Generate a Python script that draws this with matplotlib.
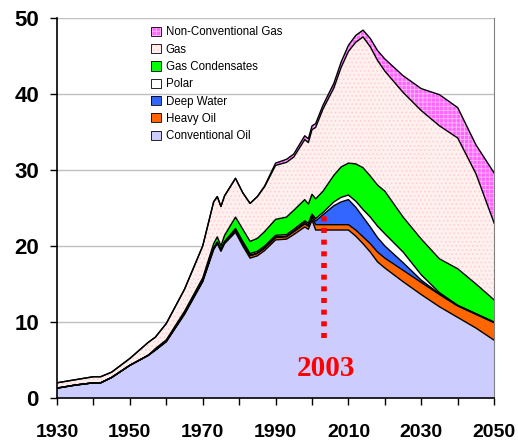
import numpy as np
import matplotlib
matplotlib.use("Agg")
import matplotlib.pyplot as plt
import matplotlib.patches as mpatches

plt.rcParams['font.family'] = ['Liberation Sans', 'DejaVu Sans']
plt.rcParams['hatch.linewidth'] = 0.6

# Annees (espacement irregulier pour suivre les cassures de la courbe)
annees = [1930, 1935, 1940, 1942, 1945, 1950, 1955, 1957, 1960, 1965, 1970, 1973, 1974, 1975,
          1976, 1979, 1981, 1983, 1985, 1987, 1990, 1993, 1995, 1998, 1999, 2000, 2001, 2003,
          2006, 2008, 2010, 2012, 2014, 2016, 2018, 2020, 2025, 2030, 2035, 2040, 2045, 2050]

# Epaisseur de chaque couche (Gb/an equivalent)
conventional_oil = [1.3, 1.7, 2.0, 2.0, 2.7, 4.3, 5.6, 6.3, 7.4, 11.0, 15.3, 19.5, 20.3, 19.3,
                    20.3, 21.8, 20.0, 18.4, 18.7, 19.4, 20.8, 20.9, 21.5, 22.5, 22.2, 23.4, 22.1, 22.1,
                    22.1, 22.1, 22.1, 21.3, 20.3, 19.2, 17.9, 17.1, 15.3, 13.6, 12.0, 10.6, 9.2, 7.6]
heavy_oil = [0, 0, 0, 0, 0, 0, 0, 0, 0.05, 0.1, 0.1, 0.2, 0.2, 0.2,
             0.2, 0.25, 0.3, 0.3, 0.3, 0.3, 0.3, 0.3, 0.35, 0.4, 0.4, 0.4, 0.7, 0.7,
             0.7, 0.7, 0.7, 0.8, 0.9, 1.1, 1.3, 1.3, 1.5, 1.6, 1.6, 1.5, 1.8, 2.3]
deep_water = [0, 0, 0, 0, 0, 0, 0, 0, 0, 0, 0, 0, 0, 0,
              0, 0.05, 0.1, 0.1, 0.1, 0.1, 0.1, 0.1, 0.15, 0.2, 0.2, 0.2, 0.5, 1.3,
              2.5, 3.0, 3.3, 3.0, 2.6, 2.2, 1.9, 1.6, 1.0, 0.3, 0.1, 0.05, 0.05, 0.05]
polar = [0, 0, 0, 0, 0, 0, 0, 0, 0, 0, 0, 0, 0, 0,
         0.1, 0.2, 0.2, 0.2, 0.2, 0.2, 0.2, 0.2, 0.2, 0.2, 0.2, 0.2, 0.3, 0.3,
         0.5, 0.6, 0.6, 0.8, 1.0, 1.3, 1.5, 1.6, 1.4, 0.7, 0.15, 0.05, 0.05, 0.05]
gas_condensates = [0, 0, 0, 0, 0, 0, 0, 0.2, 0.2, 0.3, 0.4, 0.6, 0.7, 0.5,
                   0.8, 1.5, 1.6, 1.6, 1.7, 1.9, 2.1, 2.3, 2.5, 2.8, 2.5, 2.6, 2.6, 2.8,
                   3.5, 4.0, 4.2, 4.9, 5.5, 5.4, 5.4, 5.6, 4.6, 4.7, 4.45, 4.8, 3.9, 2.9]
gas = [0.7, 0.7, 0.8, 0.8, 0.7, 0.9, 1.7, 1.5, 2.15, 2.9, 4.2, 5.5, 5.3, 5.2,
       5.2, 5.1, 4.8, 5.0, 5.5, 5.9, 7.1, 7.2, 7.0, 7.9, 8.1, 8.5, 9.4, 10.8,
       11.5, 13.1, 14.7, 16.0, 17.2, 17.0, 16.4, 15.8, 16.4, 16.9, 17.5, 17.2, 14.5, 10.1]
non_conventional_gas = [0, 0, 0, 0, 0, 0, 0, 0, 0, 0, 0, 0, 0, 0,
                        0, 0, 0, 0, 0, 0.1, 0.3, 0.4, 0.4, 0.5, 0.5, 0.5, 0.5, 0.5,
                        0.6, 0.7, 0.8, 0.9, 0.9, 1.1, 1.3, 1.6, 2.2, 2.9, 4.1, 4.0, 3.8, 6.6]

couches = [
    ("Conventional Oil", conventional_oil, "#CCCCFF", None, None),
    ("Heavy Oil", heavy_oil, "#FF6600", None, None),
    ("Deep Water", deep_water, "#3366FF", None, None),
    ("Polar", polar, "#FFFFFF", None, None),
    ("Gas Condensates", gas_condensates, "#00FF00", None, None),
    ("Gas", gas, "#FFF0F0", "....", "#FFCCCC"),
    ("Non-Conventional Gas", non_conventional_gas, "#FF66FF", "++++", "#FFB8FF"),
]

fig = plt.figure(figsize=(5.18, 4.44), dpi=100)
ax = fig.add_axes([0.110, 0.1036, 0.844, 0.856])

x = np.array(annees)
bas = np.zeros(len(x))
poignees, noms = [], []
for nom, valeurs, couleur, motif, couleur_motif in couches:
    haut = bas + np.array(valeurs)
    if motif:
        ax.fill_between(x, bas, haut, facecolor=couleur, edgecolor=couleur_motif,
                        hatch=motif, linewidth=0, zorder=2)
        fond = mpatches.Patch(facecolor=couleur, edgecolor=couleur_motif, hatch=motif, linewidth=0)
    else:
        ax.fill_between(x, bas, haut, facecolor=couleur, linewidth=0, zorder=2)
        fond = mpatches.Patch(facecolor=couleur, linewidth=0)
    ax.plot(x, haut, color="black", linewidth=1.0, zorder=3)
    cadre = mpatches.Patch(facecolor="none", edgecolor="black", linewidth=0.6)
    poignees.append((fond, cadre))
    noms.append(nom)
    bas = haut

# Ligne pointillee rouge 2003
ax.plot([2003.3, 2003.3], [7.9, 24.0], color="red", linewidth=4,
        linestyle=(0, (0.9, 1.2)), dash_capstyle="butt", zorder=4)
ax.text(2003.9, 3.9, "2003", color="red", fontsize=21, fontweight="bold",
        family=["Liberation Serif", "DejaVu Serif"], ha="center", va="center", zorder=5)

# Axes
ax.set_xlim(1930, 2050)
ax.set_ylim(0, 50)
ax.set_xticks(range(1930, 2051, 10))
ax.set_xticklabels([str(a) if (a - 1930) % 20 == 0 else "" for a in range(1930, 2051, 10)])
ax.set_yticks(range(0, 51, 10))
ax.tick_params(axis="x", direction="out", length=5, width=1, pad=14, labelsize=14)
ax.tick_params(axis="y", direction="out", length=5, width=1, pad=8, labelsize=16)
for lab in ax.get_xticklabels() + ax.get_yticklabels():
    lab.set_fontweight("bold")
ax.yaxis.grid(True, color="#C0C0C0", linewidth=1)
ax.set_axisbelow(True)
ax.spines["top"].set_visible(False)
ax.spines["right"].set_color("#808080")
ax.spines["left"].set_linewidth(1.2)
ax.spines["bottom"].set_linewidth(1.2)

leg = ax.legend(poignees[::-1], noms[::-1], loc="upper left", bbox_to_anchor=(0.205, 0.99),
                frameon=False, fontsize=8.3, handlelength=0.85, handleheight=0.85,
                handletextpad=0.4, labelspacing=0.46, borderaxespad=0)

fig.savefig("out.png", dpi=100)
